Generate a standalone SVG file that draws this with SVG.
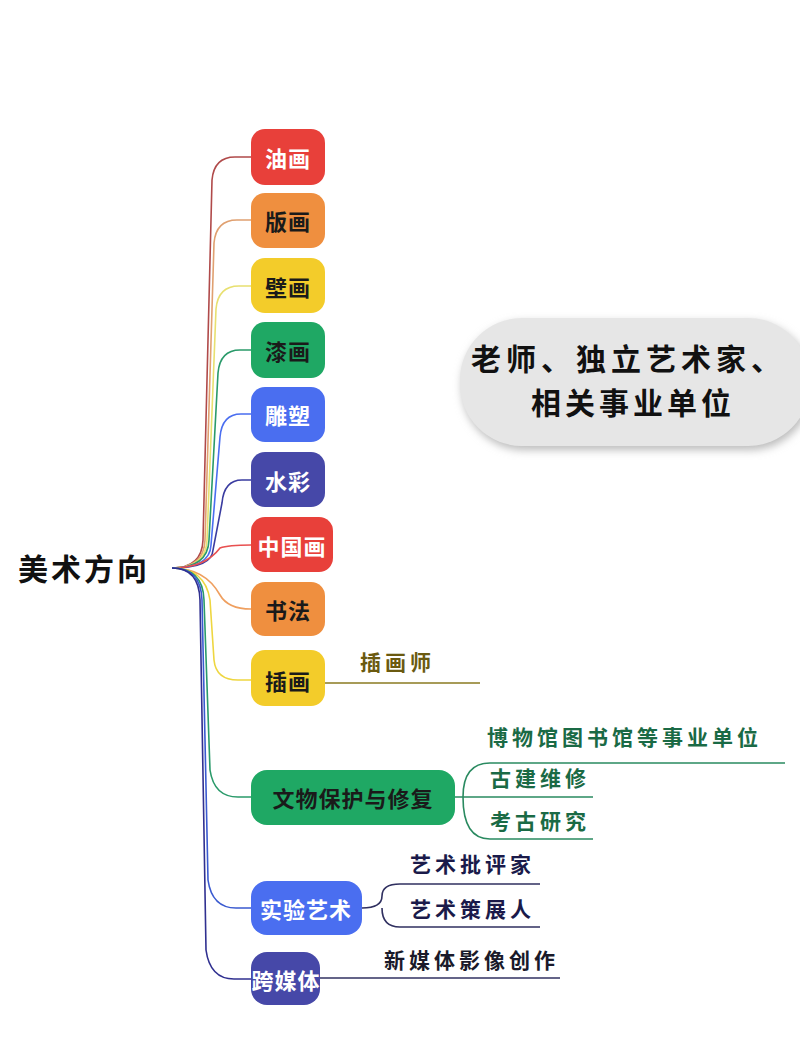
<svg xmlns="http://www.w3.org/2000/svg" width="800" height="1062" viewBox="0 0 800 1062">
<defs>
<filter id="sh" x="-10%" y="-20%" width="120%" height="140%"><feGaussianBlur stdDeviation="4"/></filter>
<style>
text{font-family:"Noto Sans CJK SC","Noto Sans",sans-serif;font-weight:bold}
.n{font-size:22px;text-anchor:middle;dominant-baseline:central;letter-spacing:1px}
.w{fill:#fff}.k{fill:#1a1a1a}
.c{fill:none;stroke-width:1.6}
.s{font-size:21px;letter-spacing:4px}
</style>
</defs>
<rect width="800" height="1062" fill="#fff"/>
<g id="bubble">
<rect x="462" y="322" width="350" height="128" rx="62" fill="#bbb" filter="url(#sh)"/>
<rect x="460" y="318" width="350" height="128" rx="62" fill="#e6e6e6"/>
<text x="471" y="370" font-size="30" letter-spacing="5" fill="#111">老师、独立艺术家、</text>
<text x="531" y="414" font-size="30" letter-spacing="4" fill="#111">相关事业单位</text>
</g>
<g id="root"><text x="18" y="580" font-size="30" letter-spacing="3" fill="#111" font-weight="normal">美术方向</text></g>
<g id="connectors">
<path class="c" stroke="#b04a4a" d="M172 568 Q202 568 203 540 L212 180 Q214 157 235 157 L251 157"/>
<path class="c" stroke="#e0a070" d="M172 568 Q204 568 205 540 L214 243 Q216 220 237 220 L251 220"/>
<path class="c" stroke="#e8e070" d="M172 568 Q206 568 207 540 L216 309 Q218 286 239 286 L251 286"/>
<path class="c" stroke="#2a9a6a" d="M172 568 Q208 568 209 540 L218 373 Q220 350 240 350 L251 350"/>
<path class="c" stroke="#4a6ef0" d="M172 568 Q210 568 211 545 L220 437 Q222 414 241 414 L251 414"/>
<path class="c" stroke="#3a3ca0" d="M172 568 Q212 568 213 550 L222 503 Q224 480 242 480 L251 480"/>
<path class="c" stroke="#e85050" d="M172 568 Q205 568 220 548 Q228 545 251 545"/>
<path class="c" stroke="#ef9f5f" d="M172 568 Q205 568 220 595 Q228 609 251 609"/>
<path class="c" stroke="#eed640" d="M172 568 Q205 568 210 600 L214 660 Q216 680 238 680 L251 680"/>
<path class="c" stroke="#2a9a6a" d="M172 568 Q203 568 204 600 L210 770 Q214 797 238 797 L251 797"/>
<path class="c" stroke="#3a5ad0" d="M172 568 Q201 568 202 600 L208 880 Q212 908 236 908 L251 908"/>
<path class="c" stroke="#303090" d="M172 568 Q199 568 200 600 L206 950 Q210 979 234 979 L251 979"/>
<path class="c" stroke="#8a7a20" d="M325 683 L480 683"/>
<path class="c" stroke="#2a8a60" d="M455 797 L593 797 M463 797 Q463 763 490 763 L785 763 M463 797 Q463 839 490 839 L593 839"/>
<path class="c" stroke="#303060" d="M362 908 Q382 908 382 896 Q382 884 400 884 L540 884 M382 908 Q382 927 400 927 L540 927"/>
<path class="c" stroke="#303060" d="M320 978 L560 978"/>
</g>
<g id="n1"><rect x="251" y="129" width="74" height="56" rx="14" fill="#e8403a"/><text class="n w" x="288" y="157">油画</text></g>
<g id="n2"><rect x="251" y="193" width="74" height="55" rx="14" fill="#ef8f3f"/><text class="n k" x="288" y="220">版画</text></g>
<g id="n3"><rect x="251" y="258" width="74" height="55" rx="14" fill="#f3cc2a"/><text class="n k" x="288" y="286">壁画</text></g>
<g id="n4"><rect x="251" y="322" width="74" height="56" rx="14" fill="#1fa864"/><text class="n k" x="288" y="350">漆画</text></g>
<g id="n5"><rect x="251" y="387" width="74" height="55" rx="14" fill="#4a6ef0"/><text class="n w" x="288" y="414">雕塑</text></g>
<g id="n6"><rect x="251" y="452" width="74" height="55" rx="14" fill="#4648a8"/><text class="n w" x="288" y="480">水彩</text></g>
<g id="n7"><rect x="251" y="517" width="82" height="55" rx="14" fill="#e8403a"/><text class="n w" x="292" y="545">中国画</text></g>
<g id="n8"><rect x="251" y="582" width="74" height="54" rx="14" fill="#ef8f3f"/><text class="n k" x="288" y="609">书法</text></g>
<g id="n9"><rect x="251" y="650" width="74" height="56" rx="14" fill="#f3cc2a"/><text class="n k" x="288" y="680">插画</text>
<text class="s" x="360" y="670" fill="#6b5a10">插画师</text></g>
<g id="n10"><rect x="251" y="770" width="204" height="55" rx="16" fill="#1fa864"/><text class="n k" x="353" y="797">文物保护与修复</text>
<text class="s" x="487" y="745" fill="#1a6a45">博物馆图书馆等事业单位</text>
<text class="s" x="490" y="786" fill="#1a6a45">古建维修</text>
<text class="s" x="490" y="829" fill="#1a6a45">考古研究</text></g>
<g id="n11"><rect x="251" y="881" width="111" height="54" rx="16" fill="#4a6ef0"/><text class="n w" x="306" y="908">实验艺术</text>
<text class="s" x="410" y="872" fill="#1a1a4a">艺术批评家</text>
<text class="s" x="410" y="917" fill="#1a1a4a">艺术策展人</text></g>
<g id="n12"><rect x="251" y="952" width="69" height="53" rx="16" fill="#4648a8"/><text class="n w" x="286" y="979">跨媒体</text>
<text class="s" x="384" y="968" fill="#1a1a2a">新媒体影像创作</text></g>
</svg>
